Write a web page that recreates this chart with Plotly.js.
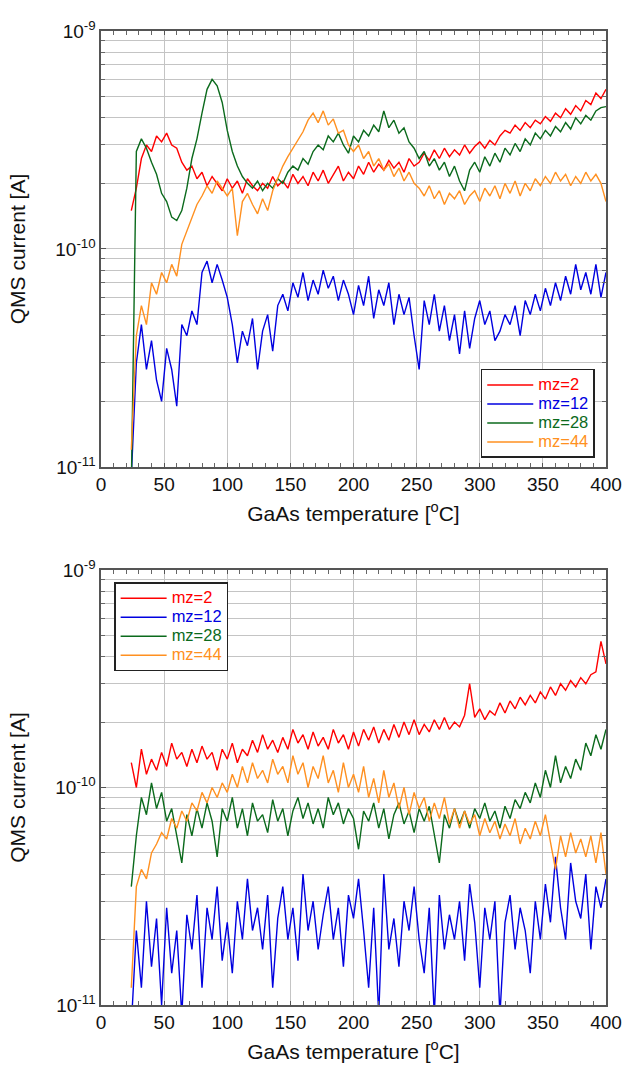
<!DOCTYPE html>
<html>
<head>
<meta charset="utf-8">
<script src="https://cdn.plot.ly/plotly-3.0.1.min.js"></script>
<style>html,body{margin:0;padding:0;background:#fff;}#chart{width:626px;height:1069px;}</style>
</head>
<body>
<div id="chart"></div>
<script>
// GaAs temperature [°C]
const temps = [24,28,32,36,40,44,48,52,56,60,64,68,72,76,80,84,88,92,96,100,
104,108,112,116,120,124,128,132,136,140,144,148,152,156,160,164,168,172,176,180,
184,188,192,196,200,204,208,212,216,220,224,228,232,236,240,244,248,252,256,260,
264,268,272,276,280,284,288,292,296,300,304,308,312,316,320,324,328,332,336,340,
344,348,352,356,360,364,368,372,376,380,384,388,392,396,400];

// QMS current values in pA (1e-12 A) — upper panel
const topMz2 = [150,190,260,300,280,330,310,340,300,290,
250,230,240,210,225,195,215,200,185,210,
190,205,180,210,195,185,200,190,215,195,
205,190,220,200,215,195,225,205,230,200,
220,240,205,225,210,240,220,250,225,245,
230,255,235,250,225,260,240,250,275,255,
285,260,290,265,285,270,300,275,295,310,
290,315,300,330,350,340,370,350,380,360,
390,375,405,385,420,400,440,415,455,430,
480,460,520,490,540];
const topMz12 = [9,30,45,28,38,25,20,35,28,19,
45,40,52,45,78,88,70,85,72,60,
45,30,42,36,48,28,42,50,34,55,
62,52,70,60,78,58,72,62,80,66,
75,58,72,62,50,68,55,75,48,65,
55,70,45,62,50,60,40,28,58,45,
62,42,55,38,50,33,52,35,48,58,
45,52,38,42,50,45,55,40,58,50,
62,52,66,55,70,58,75,62,85,65,
78,62,85,60,78];
const topMz28 = [8,280,320,290,250,220,180,165,140,135,
150,190,260,320,420,540,600,560,470,350,
280,240,215,200,190,205,185,200,190,210,
200,225,240,230,260,245,280,300,285,330,
310,340,300,275,330,310,350,330,370,345,
430,360,390,340,360,310,290,260,280,240,
260,230,250,215,240,205,185,230,250,225,
265,240,275,250,290,270,305,280,320,300,
340,320,350,330,365,345,380,355,400,375,
410,390,430,445,450];
const topMz44 = [12,40,55,45,70,62,78,70,85,75,
105,120,140,160,175,195,180,205,190,175,
190,115,165,180,160,145,170,150,185,210,
240,265,290,320,345,390,420,380,430,370,
395,340,350,300,280,300,260,280,240,260,
230,245,215,235,205,225,200,190,175,195,
170,185,160,180,170,185,160,175,185,165,
190,175,195,170,200,180,205,175,200,185,
210,195,215,200,225,205,220,195,215,200,
225,205,220,200,165];

// lower panel
const botMz2 = [130,100,150,115,135,120,145,125,160,135,
145,125,150,130,155,135,145,120,150,135,
160,130,150,140,165,145,175,150,165,145,
170,150,185,160,175,150,180,155,170,150,
185,160,175,150,180,155,185,165,190,160,
185,165,195,170,200,175,205,175,195,180,
205,185,210,185,200,190,215,300,210,230,
205,225,215,245,220,250,230,260,240,265,
245,275,255,290,265,300,280,310,290,320,
300,330,340,470,370];
const botMz12 = [8,22,12,30,15,25,10,28,14,22,
9,26,18,32,12,28,20,35,16,24,
14,30,20,38,22,28,18,32,12,25,
35,20,28,16,40,22,30,18,26,35,
20,28,15,32,25,38,22,12,28,9,
40,18,25,15,30,22,35,20,14,28,
9,32,18,26,20,30,16,36,24,12,
28,20,30,9,24,32,18,28,22,14,
30,20,36,24,48,28,20,45,30,25,
40,18,35,28,38];
const botMz28 = [35,60,90,75,105,80,95,70,80,60,
45,75,60,80,65,85,70,48,80,70,
90,65,80,60,85,70,75,62,88,70,
80,60,78,90,72,85,68,80,65,90,
75,85,68,80,72,52,78,70,85,65,
80,58,75,85,68,78,62,80,70,82,
60,45,75,65,80,68,78,65,80,72,
85,70,78,65,82,72,88,80,95,85,
105,90,120,100,140,105,125,110,135,120,
160,140,175,150,185];
const botMz44 = [12,35,42,38,50,55,62,58,72,65,
78,70,85,78,95,85,100,90,105,95,
115,100,125,105,130,110,120,105,135,115,
125,105,140,115,130,100,125,110,140,105,
120,95,130,100,115,95,125,90,110,85,
120,90,105,80,100,75,95,80,90,70,
85,72,90,68,80,65,78,68,75,60,
72,62,70,58,68,60,72,55,65,58,
70,60,75,55,42,60,48,62,50,58,
48,60,45,62,40];

const seriesNames = ['mz=2','mz=12','mz=28','mz=44'];
const seriesColors = ['#ff0000','#0000e0','#0b6a1c','#ff9020'];
const yTickVals = [1e-11, 1e-10, 1e-9];
const yTickText = ['10<sup>-11</sup>', '10<sup>-10</sup>', '10<sup>-9</sup>'];

const toAmp = arr => arr.map(v => v * 1e-12);
const legendLabel = (name, color) =>
  '<span style="color:' + color + ';font-size:16.5px">' + name + '</span>';
const traces = [];
[[topMz2, topMz12, topMz28, topMz44], [botMz2, botMz12, botMz28, botMz44]].forEach((sets, p) => {
  sets.forEach((s, i) => traces.push({
    x: temps, y: toAmp(s), type: 'scatter', mode: 'lines',
    line: {color: seriesColors[i], width: 1.4},
    name: legendLabel(seriesNames[i], seriesColors[i]),
    xaxis: p === 0 ? 'x' : 'x2', yaxis: p === 0 ? 'y' : 'y2',
    legend: p === 0 ? 'legend' : 'legend2'
  }));
});

const tickFont = {family: 'Liberation Sans, Arial, sans-serif', size: 19, color: '#111'};
const titleFont = {family: 'Liberation Sans, Arial, sans-serif', size: 21, color: '#111'};
function xAxis(anchor) {
  return {
    anchor: anchor, range: [0, 400], dtick: 50, tick0: 0,
    showgrid: true, gridcolor: '#c4c4c4', gridwidth: 1,
    showline: true, linecolor: '#555', linewidth: 1.6, mirror: 'ticks',
    ticks: 'inside', ticklen: 4, tickcolor: '#555',
    minor: {dtick: 10, ticks: 'inside', ticklen: 4, tickcolor: '#666', showgrid: false},
    zeroline: false, tickfont: tickFont,
    title: {text: 'GaAs temperature [<sup>o</sup>C]', font: titleFont, standoff: 12}
  };
}
function yAxis(anchor, domain) {
  return {
    anchor: anchor, domain: domain, type: 'log', range: [-11, -9],
    tickmode: 'array', tickvals: yTickVals, ticktext: yTickText,
    showgrid: true, gridcolor: '#c4c4c4', gridwidth: 1,
    showline: true, linecolor: '#555', linewidth: 1.6, mirror: 'ticks',
    ticks: 'inside', ticklen: 5, tickcolor: '#555',
    minor: {dtick: 'D1', ticks: 'inside', ticklen: 4, tickcolor: '#666',
            showgrid: true, gridcolor: '#c4c4c4', gridwidth: 1},
    zeroline: false, tickfont: tickFont,
    title: {text: 'QMS current [A]', font: titleFont, standoff: 24}
  };
}

const legendBase = {
  bgcolor: '#ffffff', bordercolor: '#222', borderwidth: 1.5,
  font: {family: 'Liberation Sans, Arial, sans-serif', size: 12},
  xanchor: 'left', yanchor: 'top', tracegroupgap: 0, itemwidth: 46
};

const layout = {
  width: 626, height: 1069,
  margin: {l: 101, r: 20, t: 31, b: 64},
  paper_bgcolor: '#fff', plot_bgcolor: '#fff',
  showlegend: true,
  xaxis: xAxis('y'),
  yaxis: yAxis('x', [0.5524, 1]),
  xaxis2: xAxis('y2'),
  yaxis2: yAxis('x2', [0, 0.4466]),
  legend: Object.assign({}, legendBase, {x: 0.752, y: 0.653}),
  legend2: Object.assign({}, legendBase, {x: 0.026, y: 0.434})
};

Plotly.newPlot('chart', traces, layout, {displayModeBar: false, staticPlot: true});
</script>
</body>
</html>
